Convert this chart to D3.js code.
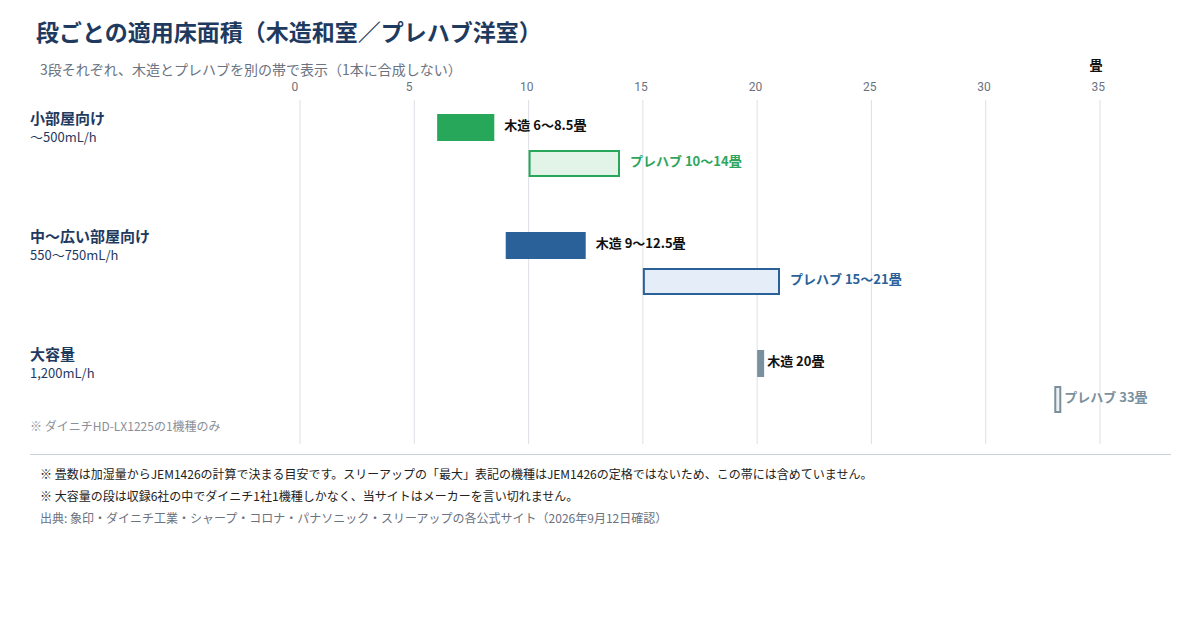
<!DOCTYPE html>
<html lang="ja">
<head>
<meta charset="utf-8">
<script src="https://cdn.jsdelivr.net/npm/d3@7"></script>
<style>
  html, body { margin: 0; padding: 0; background: #fff; }
  svg { display: block; font-family: "Noto Sans CJK JP", "Noto Sans", sans-serif; }
</style>
</head>
<body>
<svg id="chart" width="1200" height="620"></svg>
<script>
// tiers (rows)
const tiers = ['小部屋向け', '中〜広い部屋向け', '大容量'];
const tierSubs = ['〜500mL/h', '550〜750mL/h', '1,200mL/h'];
const tierColors = ['#27a75a', '#2a6199', '#7a909c'];
const tierLight = ['#e2f3e8', '#e4edf8', '#eef1f3'];
const labelColors = ['#2ea55d', '#2a6199', '#7a909c'];

// wood (木造和室) and prefab (プレハブ洋室) ranges in 畳
const woodMin = [6, 9, 20];
const woodMax = [8.5, 12.5, 20];
const prefabMin = [10, 15, 33];
const prefabMax = [14, 21, 33];
const woodLabels = ['木造 6〜8.5畳', '木造 9〜12.5畳', '木造 20畳'];
const prefabLabels = ['プレハブ 10〜14畳', 'プレハブ 15〜21畳', 'プレハブ 33畳'];

const xTicks = [0, 5, 10, 15, 20, 25, 30, 35];

const footnotes = [
  '※ 畳数は加湿量からJEM1426の計算で決まる目安です。スリーアップの「最大」表記の機種はJEM1426の定格ではないため、この帯には含めていません。',
  '※ 大容量の段は収録6社の中でダイニチ1社1機種しかなく、当サイトはメーカーを言い切れません。'
];
const source = '出典: 象印・ダイニチ工業・シャープ・コロナ・パナソニック・スリーアップの各公式サイト（2026年9月12日確認）';

const svg = d3.select('#chart');
const navy = '#1f3a5f';

const x = d3.scaleLinear().domain([0, 35]).range([300, 1100]);
const barH = 27;
const minW = 7;

// title
svg.append('text')
  .attr('x', 36).attr('y', 41)
  .attr('fill', navy)
  .style('font-size', '23px').style('font-weight', 'bold')
  .text('段ごとの適用床面積（木造和室／プレハブ洋室）');

svg.append('text')
  .attr('x', 40).attr('y', 75)
  .attr('fill', '#6b7280')
  .style('font-size', '14px')
  .text('3段それぞれ、木造とプレハブを別の帯で表示（1本に合成しない）');

// grid + tick labels
const grid = svg.append('g');
grid.selectAll('line')
  .data(xTicks)
  .enter()
  .append('line')
  .attr('x1', d => x(d)).attr('x2', d => x(d))
  .attr('y1', 100).attr('y2', 444)
  .attr('stroke', '#dde0e6').attr('stroke-width', 1);

grid.selectAll('text')
  .data(xTicks)
  .enter()
  .append('text')
  .attr('x', d => x(d) - 8.5)
  .attr('y', 91)
  .attr('fill', '#6b7280')
  .style('font-size', '12px')
  .style('font-family', 'Roboto, "Noto Sans", sans-serif')
  .text(d => d);

svg.append('text')
  .attr('x', 1096).attr('y', 70)
  .attr('text-anchor', 'middle')
  .attr('fill', '#111')
  .style('font-size', '13px').style('font-weight', 'bold')
  .text('畳');

// rows
tiers.forEach((t, i) => {
  const top = 100 + i * 118;

  svg.append('text')
    .attr('x', 30).attr('y', top + 24)
    .attr('fill', navy)
    .style('font-size', '15px').style('font-weight', 'bold')
    .text(t);
  svg.append('text')
    .attr('x', 30).attr('y', top + 42)
    .attr('fill', navy)
    .style('font-size', '13px')
    .text(tierSubs[i]);

  // wood bar
  const wx0 = x(woodMin[i]);
  const ww = Math.max(x(woodMax[i]) - wx0, minW);
  svg.append('rect')
    .attr('x', wx0).attr('y', top + 14)
    .attr('width', ww).attr('height', barH)
    .attr('fill', tierColors[i]);
  svg.append('text')
    .attr('x', x(woodMax[i]) + 10).attr('y', top + 14 + barH / 2 + 2)
    .attr('fill', '#111')
    .style('font-size', '13px').style('font-weight', 'bold')
    .text(woodLabels[i]);

  // prefab bar
  const px0 = x(prefabMin[i]);
  const pw = Math.max(x(prefabMax[i]) - px0, minW);
  svg.append('rect')
    .attr('x', px0 + 1).attr('y', top + 51)
    .attr('width', pw - 2).attr('height', barH - 2)
    .attr('fill', tierLight[i])
    .attr('stroke', tierColors[i]).attr('stroke-width', 2);
  svg.append('text')
    .attr('x', x(prefabMax[i]) + 10).attr('y', top + 50 + barH / 2 + 2)
    .attr('fill', labelColors[i])
    .style('font-size', '13px').style('font-weight', 'bold')
    .text(prefabLabels[i]);
});

svg.append('text')
  .attr('x', 30).attr('y', 431)
  .attr('fill', '#8a8f99')
  .style('font-size', '12px')
  .text('※ ダイニチHD-LX1225の1機種のみ');

// divider
svg.append('line')
  .attr('x1', 30).attr('x2', 1171)
  .attr('y1', 454.5).attr('y2', 454.5)
  .attr('stroke', '#cdd2d8').attr('stroke-width', 1);

footnotes.forEach((f, i) => {
  svg.append('text')
    .attr('x', 40).attr('y', 479 + i * 22)
    .attr('fill', '#222')
    .style('font-size', '12px')
    .text(f);
});
svg.append('text')
  .attr('x', 40).attr('y', 523)
  .attr('fill', '#6b7280')
  .style('font-size', '12px')
  .text(source);
</script>
</body>
</html>
